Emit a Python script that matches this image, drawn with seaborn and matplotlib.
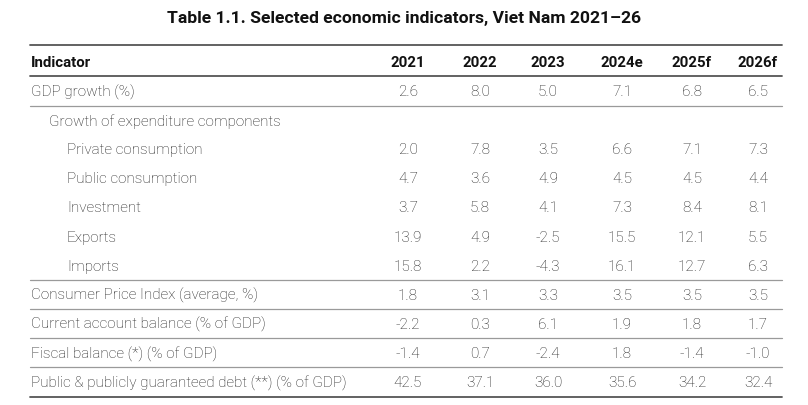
import seaborn as sns
from matplotlib import pyplot as plt

sns.set_theme(style="white")
plt.rcParams['font.family'] = ['Roboto', 'DejaVu Sans']

title = "Table 1.1. Selected economic indicators, Viet Nam 2021\u201326"
years = ["2021", "2022", "2023", "2024e", "2025f", "2026f"]
indicators = [
    "GDP growth (%)",
    "Growth of expenditure components",
    "Private consumption",
    "Public consumption",
    "Investment",
    "Exports",
    "Imports",
    "Consumer Price Index (average, %)",
    "Current account balance (% of GDP)",
    "Fiscal balance (*) (% of GDP)",
    "Public & publicly guaranteed debt (**) (% of GDP)",
]
indent_level = [0, 1, 2, 2, 2, 2, 2, 0, 0, 0, 0]
values = [
    ["2.6", "8.0", "5.0", "7.1", "6.8", "6.5"],
    ["", "", "", "", "", ""],
    ["2.0", "7.8", "3.5", "6.6", "7.1", "7.3"],
    ["4.7", "3.6", "4.9", "4.5", "4.5", "4.4"],
    ["3.7", "5.8", "4.1", "7.3", "8.4", "8.1"],
    ["13.9", "4.9", "-2.5", "15.5", "12.1", "5.5"],
    ["15.8", "2.2", "-4.3", "16.1", "12.7", "6.3"],
    ["1.8", "3.1", "3.3", "3.5", "3.5", "3.5"],
    ["-2.2", "0.3", "6.1", "1.9", "1.8", "1.7"],
    ["-1.4", "0.7", "-2.4", "1.8", "-1.4", "-1.0"],
    ["42.5", "37.1", "36.0", "35.6", "34.2", "32.4"],
]
# rows after which a separator line is drawn (row index, header = 0)
separators = [1, 7, 8, 9, 10]

col_x = [408, 480, 548, 622, 692, 758]
left, right = 30, 782
text_color = "#1e1e1e"

fig = plt.figure(figsize=(8.08, 4.06), dpi=100)
ax = fig.add_axes([0, 0, 1, 1])
ax.set_xlim(0, 808)
ax.set_ylim(11.79, -2.165)
ax.axis("off")

fig.text(0.5, 1 - 19 / 406, title, ha="center", va="center",
         fontsize=12.6, fontweight="bold", color="#111111")

# header
ax.text(left + 1, 0, "Indicator", ha="left", va="center", fontsize=10.8,
        fontweight="bold", color="#111111")
for x, y in zip(col_x, years):
    ax.text(x, 0, y, ha="center", va="center", fontsize=10.8,
            fontweight="bold", color="#111111")

# body
for r, (name, lvl, row) in enumerate(zip(indicators, indent_level, values), start=1):
    ax.text(left + 1 + 18 * lvl, r, name, ha="left", va="center",
            fontsize=11, fontweight="light", color=text_color)
    for x, v in zip(col_x, row):
        ax.text(x, r, v, ha="center", va="center", fontsize=11,
                fontweight="light", color=text_color)

# rules
ax.plot([left, right], [-0.58, -0.58], color="#555555", lw=1.3)
ax.plot([left, right], [0.48, 0.48], color="#555555", lw=1.3)
for s in separators:
    ax.plot([left, right], [s + 0.5, s + 0.5], color="#9a9a9a", lw=0.9)
ax.plot([left, right], [11.5, 11.5], color="#555555", lw=1.3)

fig.savefig("out.png", dpi=100)
